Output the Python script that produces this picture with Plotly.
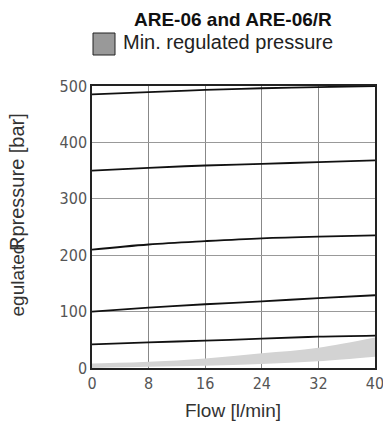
import plotly.graph_objects as go

flow = [0, 8, 16, 24, 32, 40]
curve_500 = [485, 489, 493, 496, 498, 500]
curve_350 = [350, 355, 359, 362, 365, 368]
curve_210 = [210, 219, 225, 230, 233, 235]
curve_100 = [100, 107, 113, 118, 124, 129]
curve_42 = [42, 45.5, 48.5, 52, 55.5, 57.5]
band_low = [0, 2, 4, 7, 12, 20]
band_high = [8, 11, 17, 26, 36, 54]
x_ticks = [0, 8, 16, 24, 32, 40]
y_ticks = [0, 100, 200, 300, 400, 500]

tickfont = dict(family="DejaVu Sans Condensed, Liberation Sans Narrow, sans-serif", size=16, color="#555")
txtfont = "Liberation Sans, Arial, sans-serif"

L, R, T, B = 92, 375, 86, 368
W, H = R - L, B - T

def px(x):
    return (x - L) / W

def py(y):
    return (B - y) / H

fig = go.Figure()
fig.add_trace(go.Scatter(x=flow, y=band_low, mode="lines", line=dict(width=0, shape="spline"),
                         showlegend=False, hoverinfo="skip"))
fig.add_trace(go.Scatter(x=flow, y=band_high, mode="lines", line=dict(width=0, shape="spline"),
                         fill="tonexty", fillcolor="#d3d3d3", showlegend=False, hoverinfo="skip"))
for c in [curve_500, curve_350, curve_210, curve_100, curve_42]:
    fig.add_trace(go.Scatter(x=flow, y=c, mode="lines", line=dict(color="#111", width=1.8, shape="spline"),
                             showlegend=False))

fig.update_layout(
    width=383, height=427,
    margin=dict(l=L, r=383 - R, t=T, b=427 - B, autoexpand=False),
    plot_bgcolor="white", paper_bgcolor="white",
    xaxis=dict(range=[0, 40], tickvals=x_ticks, ticks="", showgrid=True, gridcolor="#888", gridwidth=1,
               showline=True, linecolor="#222", linewidth=1.5, mirror=True, zeroline=False,
               tickfont=tickfont, automargin=False, ticklabeloverflow="allow"),
    yaxis=dict(range=[0, 500], tickvals=y_ticks, ticks="", showgrid=True, gridcolor="#999", gridwidth=1,
               showline=True, linecolor="#222", linewidth=1.5, mirror=True, zeroline=False,
               tickfont=tickfont, automargin=False),
    showlegend=False,
)

fig.add_annotation(text="<b>ARE-06 and ARE-06/R</b>", xref="paper", yref="paper", x=px(233),
                   y=py(19), xanchor="center", yanchor="middle", showarrow=False,
                   font=dict(family=txtfont, size=19, color="#111"))
fig.add_shape(type="rect", xref="paper", yref="paper",
              x0=px(93), x1=px(115), y0=py(55), y1=py(33),
              fillcolor="#999", line=dict(color="#222", width=1))
fig.add_annotation(text="Min. regulated pressure", xref="paper", yref="paper", x=px(121),
                   y=py(42), xanchor="left", yanchor="middle", showarrow=False,
                   font=dict(family=txtfont, size=20, color="#222"))
fig.add_annotation(text="Flow [l/min]", xref="paper", yref="paper", x=px(233),
                   y=py(410), xanchor="center", yanchor="middle", showarrow=False,
                   font=dict(family=txtfont, size=19, color="#333"))
fig.add_annotation(text="egulated", xref="paper", yref="paper", x=px(17),
                   y=py(319), xanchor="center", yanchor="bottom", textangle=-90, showarrow=False,
                   font=dict(family=txtfont, size=19, color="#333"))
fig.add_annotation(text="Rpressure [bar]", xref="paper", yref="paper", x=px(17),
                   y=py(253), xanchor="center", yanchor="bottom", textangle=-90, showarrow=False,
                   font=dict(family=txtfont, size=20, color="#333"))

fig.write_html("out.html", config={"displayModeBar": False},
               post_script="document.body.style.margin='0';document.body.style.padding='0';")
